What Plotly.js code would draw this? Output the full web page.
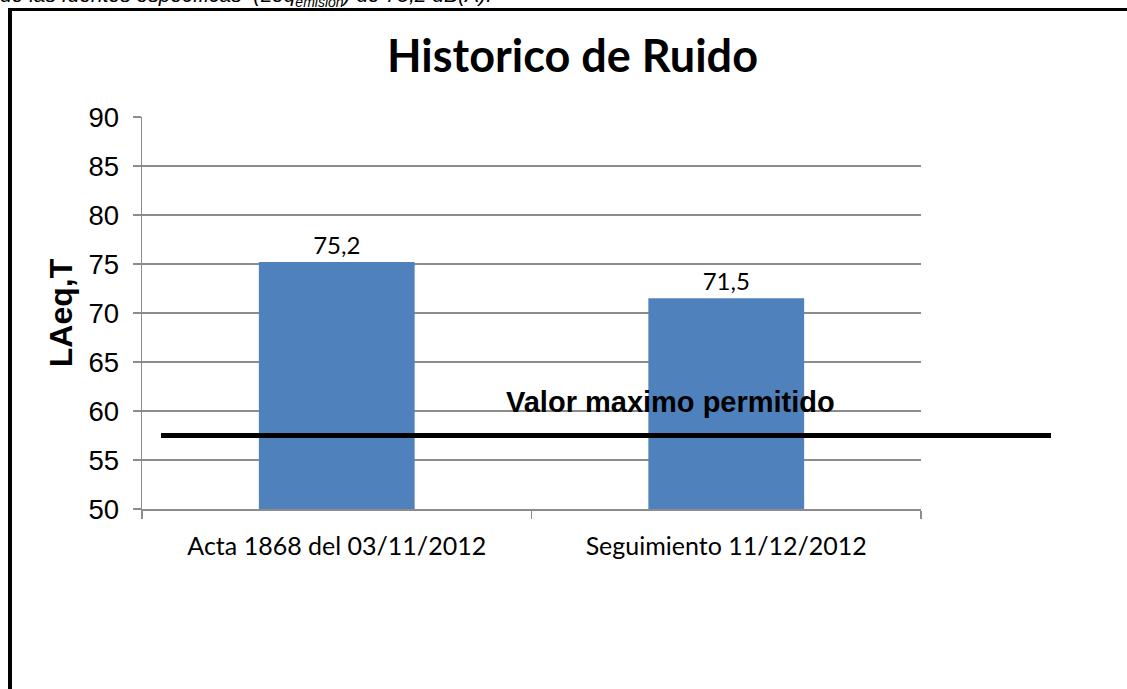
<!DOCTYPE html>
<html>
<head>
<meta charset="utf-8">
<script src="https://cdn.plot.ly/plotly-3.0.1.min.js"></script>
<style>
  html, body { margin: 0; padding: 0; background: #fff; overflow: hidden; }
  #chart { position: absolute; left: 0; top: 0; width: 1127px; height: 689px; }
  #frame { position: absolute; left: 8px; top: 8px; width: 1200px; height: 800px;
           border-left: 4px solid #000; border-top: 3px solid #000; pointer-events: none; }
  #doctext { position: absolute; left: 0px; top: -16px; font-family: "Liberation Sans", Arial, sans-serif;
             font-style: italic; font-size: 21px; line-height: 21px; white-space: nowrap; color: #000; }
</style>
</head>
<body>
<div id="doctext">de las fuentes específicas&nbsp; (Leq<sub style="font-size:14px">emision</sub>) de 75,2 dB(A).</div>
<div id="chart"></div>
<div id="frame"></div>
<script>
// ---- data ----
const categories = ["Acta 1868 del 03/11/2012", "Seguimiento 11/12/2012"];
const values = [75.2, 71.5];
const limitValue = 57.5;
const limitLabel = "Valor maximo permitido";
const chartTitle = "Historico de Ruido";
const yTitle = "LAeq,T";
const yTickVals = [50, 55, 60, 65, 70, 75, 80, 85, 90];

const trace = {
  type: "bar",
  x: categories,
  y: values,
  marker: { color: "#4F81BD" },
  texttemplate: "%{y:.1f}",
  textposition: "outside",
  cliponaxis: false,
  textfont: { family: "Lato, sans-serif", size: 24, color: "#000" },
  hoverinfo: "skip"
};

const layout = {
  width: 1127, height: 689,
  paper_bgcolor: "rgba(0,0,0,0)", plot_bgcolor: "rgba(0,0,0,0)",
  separators: ",.",
  margin: { l: 142, r: 206, t: 117, b: 180, autoexpand: false },
  showlegend: false,
  bargap: 0.6,
  title: {
    text: "<b>" + chartTitle + "</b>",
    font: { family: "Lato, sans-serif", size: 45, color: "#000" },
    xref: "container", x: 0.508, xanchor: "center",
    yref: "container", y: 0.918, yanchor: "middle"
  },
  xaxis: {
    type: "category",
    tickson: "boundaries",
    ticks: "outside", ticklen: 8, tickwidth: 1.5, tickcolor: "#8c8c8c",
    showline: true, linecolor: "#8c8c8c", linewidth: 1.5,
    showgrid: false,
    tickfont: { family: "Lato, sans-serif", size: 25, color: "#000" },
    ticklabelstandoff: 14
  },
  yaxis: {
    range: [50, 90],
    tickvals: yTickVals,
    ticktext: yTickVals.map(String),
    ticks: "outside", ticklen: 8, tickwidth: 1.5, tickcolor: "#8c8c8c",
    showline: true, linecolor: "#8c8c8c", linewidth: 1.5,
    showgrid: true, gridcolor: "#8c8c8c", gridwidth: 1.5,
    zeroline: false,
    tickfont: { family: "Liberation Sans, Arial, sans-serif", size: 27.5, color: "#000" },
    ticklabelstandoff: 8,
    title: {
      text: "<b>" + yTitle + "</b>",
      font: { family: "Liberation Sans, Arial, sans-serif", size: 32, color: "#000" },
      standoff: 6
    }
  },
  shapes: [{
    type: "line", xref: "paper", yref: "y",
    x0: 0.0244, x1: 1.1669, y0: limitValue, y1: limitValue,
    line: { color: "#000", width: 5 }
  }],
  annotations: [{
    text: "<b>" + limitLabel + "</b>",
    xref: "paper", yref: "y", x: 0.678, y: limitValue,
    xanchor: "center", yanchor: "bottom", yshift: 16,
    showarrow: false,
    font: { family: "Liberation Sans, Arial, sans-serif", size: 29, color: "#000" }
  }]
};

Plotly.newPlot("chart", [trace], layout, { displayModeBar: false, staticPlot: true });
</script>
</body>
</html>
